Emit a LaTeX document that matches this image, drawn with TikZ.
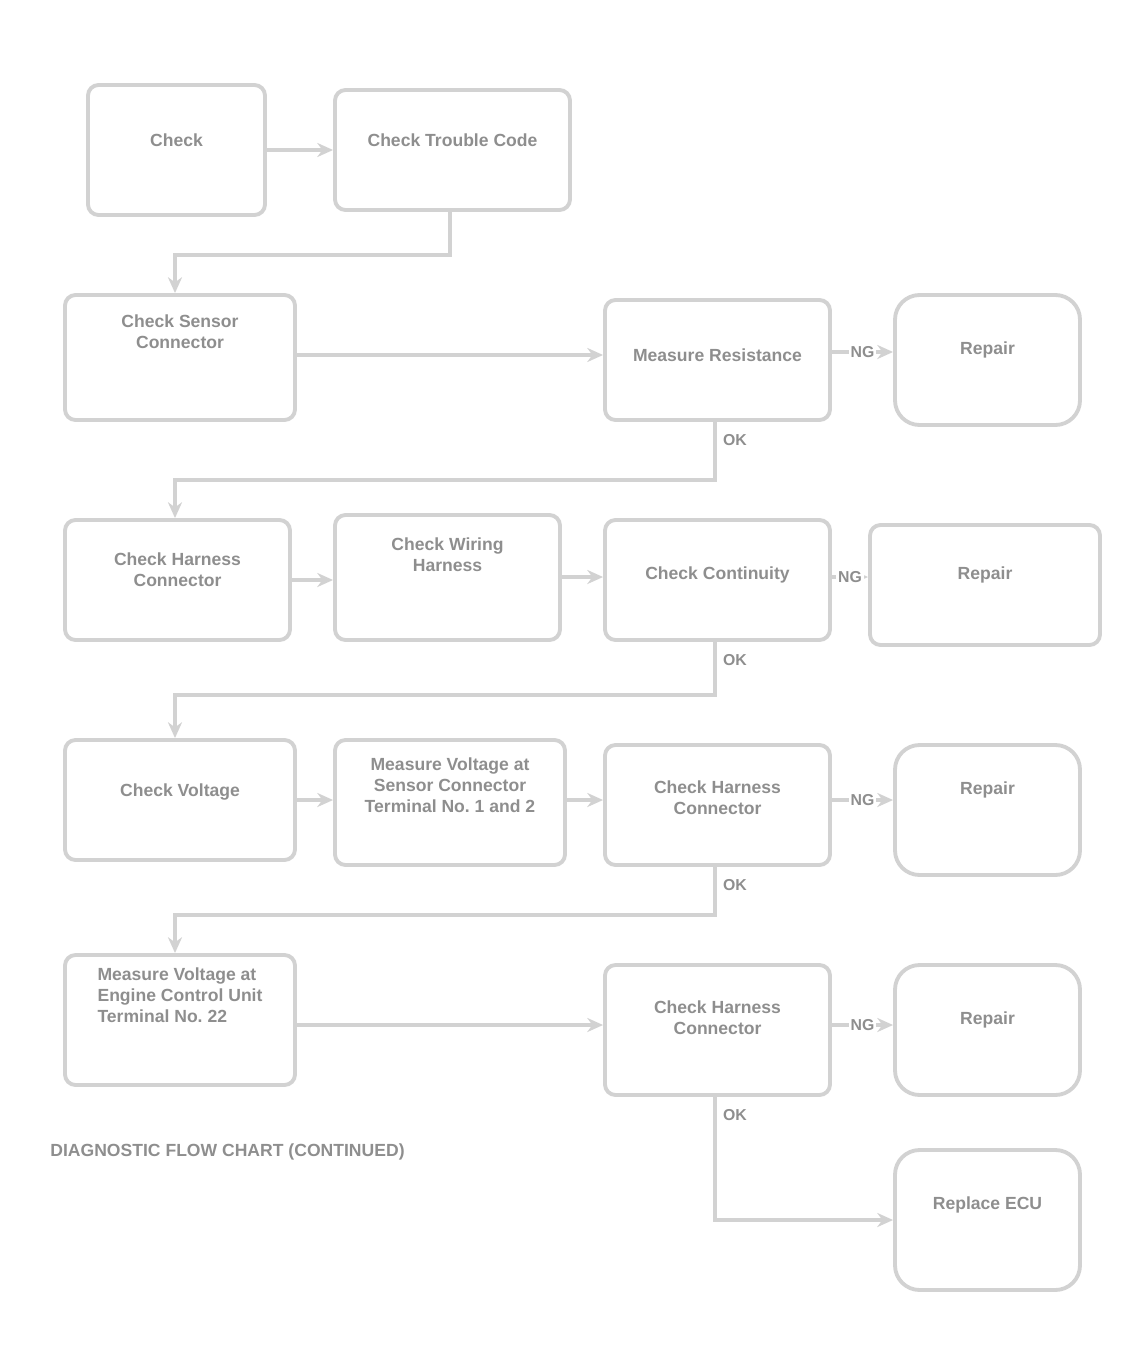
\documentclass[tikz,border=0pt]{standalone}
\usepackage{fontspec}
\setmainfont{Liberation Sans}
\usetikzlibrary{arrows.meta}
\definecolor{ln}{HTML}{D2D2D2}
\definecolor{tx}{HTML}{8E8E8E}
\tikzset{
  box/.style={draw=ln, line width=2.2pt, rounded corners=6pt, inner sep=0pt},
  endbox/.style={draw=ln, line width=2.2pt, rounded corners=14pt, inner sep=0pt},
  txt/.style={text=tx, font=\bfseries\fontsize{10}{12}\selectfont, align=center, inner sep=0pt},
  conn/.style={draw=ln, line width=2.2pt, -{Stealth[length=9pt,width=8pt]}},
  lbl/.style={text=tx, font=\bfseries\fontsize{9}{10}\selectfont, fill=white, inner sep=1pt}
}
\newcommand{\mkbox}[6]{%
  \node[#6, minimum width={(#4-#2)*0.02cm}, minimum height={(#5-#3)*0.02cm}] (#1) at ({(#2+#4)/2},{(#3+#5)/2}) {};}
\begin{document}
\begin{tikzpicture}[x=0.02cm,y=-0.02cm]
\useasboundingbox (0,0) rectangle (1137,1372);
% row 1
\mkbox{A}{88}{85}{265}{215}{box}
\node[txt] (At) at (A.center |- 0,140) {Check};
\mkbox{B}{335}{90}{570}{210}{box}
\node[txt] (Bt) at (B.center |- 0,140) {Check Trouble Code};
% row 2
\mkbox{C}{65}{295}{295}{420}{box}
\node[txt] (Ct) at (C.center |- 0,332) {Check Sensor\\Connector};
\mkbox{D}{605}{300}{830}{420}{box}
\node[txt] (Dt) at (D.center |- 0,355) {Measure Resistance};
\mkbox{E}{895}{295}{1080}{425}{endbox}
\node[txt] (Et) at (E.center |- 0,350) {Repair};
% row 3
\mkbox{F}{65}{520}{290}{640}{box}
\node[txt] (Ft) at (F.center |- 0,570) {Check Harness\\Connector};
\mkbox{G}{335}{515}{560}{640}{box}
\node[txt] (Gt) at (G.center |- 0,555) {Check Wiring\\Harness};
\mkbox{H}{605}{520}{830}{640}{box}
\node[txt] (Ht) at (H.center |- 0,575) {Check Continuity};
\mkbox{I}{870}{525}{1100}{645}{box}
\node[txt] (It) at (I.center |- 0,575) {Repair};
% row 4
\mkbox{J}{65}{740}{295}{860}{box}
\node[txt] (Jt) at (J.center |- 0,792) {Check Voltage};
\mkbox{K}{335}{740}{565}{865}{box}
\node[txt] (Kt) at (K.center |- 0,785) {Measure Voltage at\\Sensor Connector\\Terminal No.\ 1 and 2};
\mkbox{L}{605}{745}{830}{865}{box}
\node[txt] (Lt) at (L.center |- 0,798) {Check Harness\\Connector};
\mkbox{M}{895}{745}{1080}{875}{endbox}
\node[txt] (Mt) at (M.center |- 0,790) {Repair};
% row 5
\mkbox{N}{65}{955}{295}{1085}{box}
\node[txt, align=left] (Nt) at (N.center |- 0,995) {Measure Voltage at\\Engine Control Unit\\Terminal No.\ 22};
\mkbox{O}{605}{965}{830}{1095}{box}
\node[txt] (Ot) at (O.center |- 0,1018) {Check Harness\\Connector};
\mkbox{P}{895}{965}{1080}{1095}{endbox}
\node[txt] (Pt) at (P.center |- 0,1020) {Repair};
\mkbox{Q}{895}{1150}{1080}{1290}{endbox}
\node[txt] (Qt) at (Q.center |- 0,1205) {Replace ECU};
\node[txt, anchor=west] (cap) at (50,1152) {DIAGNOSTIC FLOW CHART (CONTINUED)};
% connectors
\draw[conn] (A.east |- 0,150) -- (B.west |- 0,150);
\draw[conn] (B.south -| 450,0) |- (175,255) -- (C.north -| 175,0);
\draw[conn] (C.east |- 0,355) -- (D.west |- 0,355);
\draw[conn] (D.east |- 0,352) -- node[lbl]{NG} (E.west |- 0,352);
\draw[conn] (D.south -| 715,0) |- (175,480) -- (F.north -| 175,0);
\draw[conn] (F.east |- 0,580) -- (G.west |- 0,580);
\draw[conn] (G.east |- 0,577) -- (H.west |- 0,577);
\draw[conn] (H.east |- 0,577) -- node[lbl]{NG} (I.west |- 0,577);
\draw[conn] (H.south -| 715,0) |- (175,695) -- (J.north -| 175,0);
\draw[conn] (J.east |- 0,800) -- (K.west |- 0,800);
\draw[conn] (K.east |- 0,800) -- (L.west |- 0,800);
\draw[conn] (L.east |- 0,800) -- node[lbl]{NG} (M.west |- 0,800);
\draw[conn] (L.south -| 715,0) |- (175,915) -- (N.north -| 175,0);
\draw[conn] (N.east |- 0,1025) -- (O.west |- 0,1025);
\draw[conn] (O.east |- 0,1025) -- node[lbl]{NG} (P.west |- 0,1025);
\draw[conn] (O.south -| 715,0) |- (Q.west |- 0,1220);
\node[lbl] at (735,440) {OK};
\node[lbl] at (735,660) {OK};
\node[lbl] at (735,885) {OK};
\node[lbl] at (735,1115) {OK};
\end{tikzpicture}
\end{document}
